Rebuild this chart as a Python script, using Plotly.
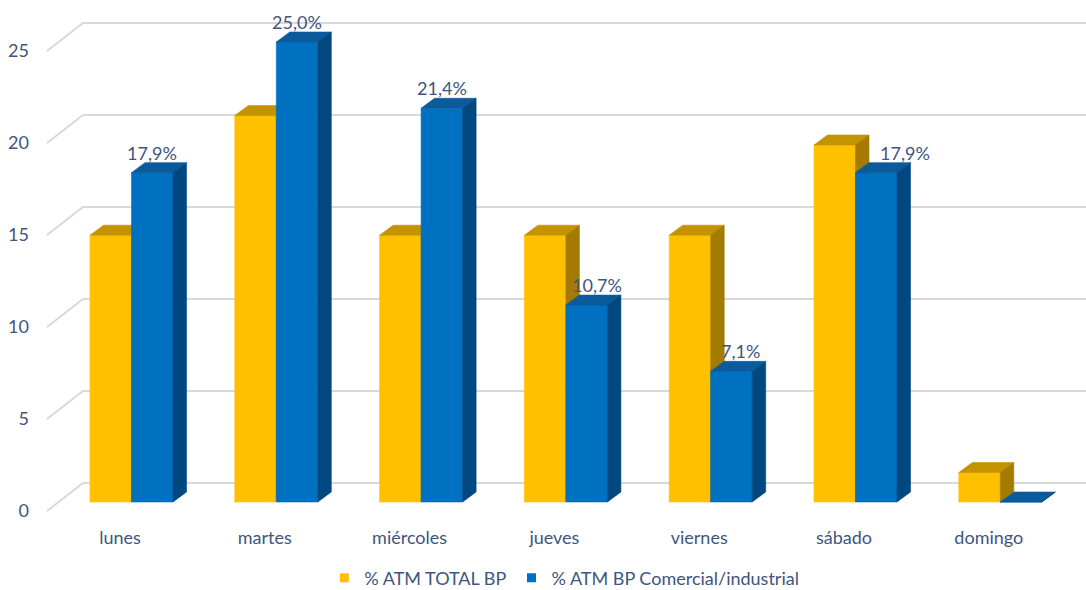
import plotly.graph_objects as go

# ---- data -------------------------------------------------------------
DAYS = ["lunes", "martes", "miércoles", "jueves", "viernes", "sábado", "domingo"]
TOTAL_BP = [14.5, 21.0, 14.5, 14.5, 14.5, 19.4, 1.6]
COMERCIAL_BP = [17.9, 25.0, 21.4, 10.7, 7.1, 17.9, 0.0]
SERIES_NAMES = ["% ATM TOTAL BP", "% ATM BP Comercial/industrial"]
Y_TICKS = [0, 5, 10, 15, 20, 25]

# ---- style / 3D geometry (x in category units, y in value units) -------
MARGIN = dict(l=30, r=0, t=10, b=75)
PX_CAT = 144.8          # pixels per category
PX_UNIT = 18.4          # pixels per value unit
BAR_W = 41.5 / PX_CAT   # width of one column front face
BAR_DX = 13.5 / PX_CAT  # column depth, horizontal component
BAR_DY = 10.0 / PX_UNIT # column depth, vertical component
WALL_FRONT = (-11.5 / PX_CAT, -9.0 / PX_UNIT)   # front edge of floor/walls
WALL_BACK = (24.5 / PX_CAT, 19.0 / PX_UNIT)     # back wall plane
WALL_LEFT = (47 - 131.5) / PX_CAT               # left end of the wall lines
X_RANGE = [(MARGIN["l"] - 131.5) / PX_CAT, (1086 - MARGIN["r"] - 131.5) / PX_CAT]
Y_RANGE = [(502 - (590 - MARGIN["b"])) / PX_UNIT, (502 - MARGIN["t"]) / PX_UNIT]
PLOT_H = 590 - MARGIN["t"] - MARGIN["b"]
LEGEND_MID = 578        # vertical centre of the legend row, in pixels

YELLOW = {"front": "#FFC000", "top": "#C39400", "side": "#A47A00"}
BLUE = {"front": "#0070C0", "top": "#0A5A9C", "side": "#00487F"}
GRID = "#D9D9D9"
TEXT = "#3E5680"
FONT = "Lato"
LABEL_XSHIFT = [0, 0, 0, 10, 9, 29, 0]   # keeps labels clear of taller neighbours

fig = go.Figure()

# back-wall gridlines, folding round the left wall edge
gx, gy = [], []
for t in Y_TICKS:
    gx += [WALL_LEFT, WALL_LEFT + (WALL_BACK[0] - WALL_FRONT[0]), X_RANGE[1], None]
    gy += [t + WALL_FRONT[1], t + WALL_BACK[1], t + WALL_BACK[1], None]
fig.add_trace(go.Scatter(x=gx, y=gy, mode="lines", line=dict(color=GRID, width=2),
                         hoverinfo="skip", showlegend=False))


def faces(values, left_offset):
    """Polygons (front, top, side) for one series of 3D columns."""
    front = ([], [])
    top = ([], [])
    side = ([], [])
    for i, v in enumerate(values):
        x0 = i + left_offset
        x1 = x0 + BAR_W
        front[0].extend([x0, x1, x1, x0, x0, None])
        front[1].extend([0, 0, v, v, 0, None])
        top[0].extend([x0, x1, x1 + BAR_DX, x0 + BAR_DX, x0, None])
        top[1].extend([v, v, v + BAR_DY, v + BAR_DY, v, None])
        side[0].extend([x1, x1 + BAR_DX, x1 + BAR_DX, x1, x1, None])
        side[1].extend([0, BAR_DY, v + BAR_DY, v, 0, None])
    return {"front": front, "top": top, "side": side}


def add_series(values, left_offset, colors, name):
    polys = faces(values, left_offset)
    for key in ("front", "top", "side"):
        xs, ys = polys[key]
        fig.add_trace(go.Scatter(x=xs, y=ys, mode="lines", fill="toself",
                                 fillcolor=colors[key],
                                 line=dict(color=colors[key], width=0.6),
                                 hoverinfo="skip", showlegend=False))
    fig.add_trace(go.Scatter(x=[None], y=[None], mode="markers", name=name,
                             marker=dict(symbol="square", size=9, color=colors["front"])))


add_series(TOTAL_BP, -BAR_W, YELLOW, SERIES_NAMES[0])
add_series(COMERCIAL_BP, 0.0, BLUE, SERIES_NAMES[1])

# value labels on the commercial/industrial columns
for i, v in enumerate(COMERCIAL_BP):
    if v <= 0:
        continue
    fig.add_annotation(x=i + BAR_W / 2, y=v, text=f"{v:.1f}".replace(".", ",") + "%",
                       showarrow=False, yshift=20, xshift=LABEL_XSHIFT[i],
                       font=dict(family=FONT, size=18, color=TEXT))

fig.update_layout(
    width=1086, height=590,
    margin=dict(**MARGIN, autoexpand=False),
    paper_bgcolor="white", plot_bgcolor="white",
    font=dict(family=FONT, size=17, color=TEXT),
    showlegend=True,
    legend=dict(orientation="h", x=0.506, xanchor="center",
                y=-(LEGEND_MID - (590 - MARGIN["b"])) / PLOT_H, yanchor="middle",
                font=dict(family=FONT, size=18, color=TEXT), itemwidth=30,
                bgcolor="rgba(0,0,0,0)"),
    xaxis=dict(range=X_RANGE, tickvals=[i + WALL_FRONT[0] for i in range(len(DAYS))],
               ticktext=DAYS, showgrid=False, zeroline=False, showline=False,
               ticks="", ticklabelstandoff=10, fixedrange=True,
               tickfont=dict(size=18)),
    yaxis=dict(range=Y_RANGE, tickvals=[t + WALL_FRONT[1] for t in Y_TICKS],
               ticktext=[str(t) for t in Y_TICKS], showgrid=False, zeroline=False,
               showline=False, ticks="", fixedrange=True, tickfont=dict(size=18)),
)

fig.write_html("out.html")
